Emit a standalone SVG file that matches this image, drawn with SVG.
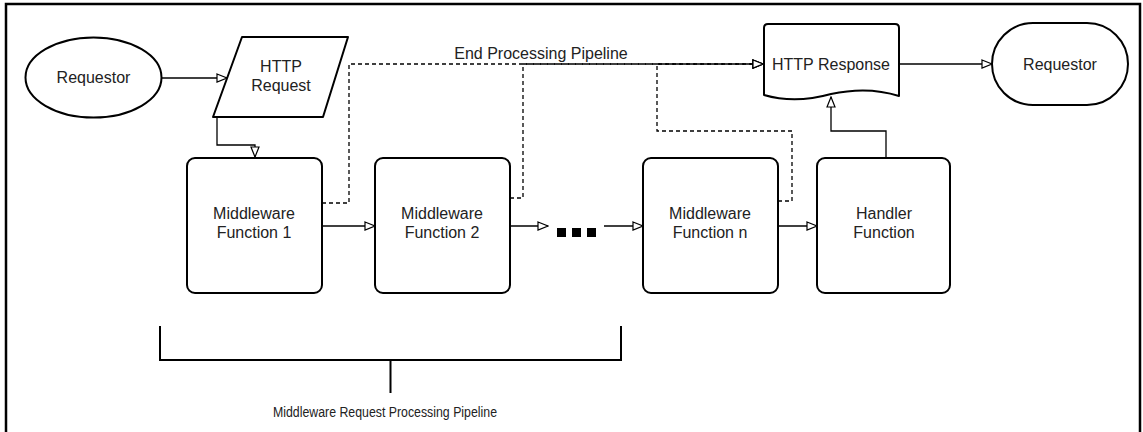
<svg xmlns="http://www.w3.org/2000/svg" width="1143" height="432" viewBox="0 0 1143 432">
<defs>
<style>
.shape{fill:#fff;stroke:#000;stroke-width:2;stroke-linejoin:round}
.t{font-family:"Liberation Sans",Arial,sans-serif;font-size:16px;fill:#222;text-anchor:middle}
.c{fill:none;stroke:#000;stroke-width:1.3}
.d{fill:none;stroke:#000;stroke-width:1.3;stroke-dasharray:4 3}
</style>
<marker id="arr" viewBox="0 0 12 10" refX="11" refY="5" markerWidth="12" markerHeight="10" markerUnits="userSpaceOnUse" orient="auto">
<path d="M1,1 L11,5 L1,9 Z" fill="#fff" stroke="#000" stroke-width="1.2"/>
</marker>
</defs>
<rect width="1143" height="432" fill="#fff"/>
<path d="M6,440 V4 H1140 V440" fill="none" stroke="#000" stroke-width="2.5"/>

<g id="connectors">
<path class="c" d="M162,78 H227" marker-end="url(#arr)"/>
<path class="c" d="M217,117 V145 H255 V157" marker-end="url(#arr)"/>
<path class="c" d="M322,226 H375" marker-end="url(#arr)"/>
<path class="c" d="M510,226 H548" marker-end="url(#arr)"/>
<path class="c" d="M604,226 H643" marker-end="url(#arr)"/>
<path class="c" d="M778,226 H817" marker-end="url(#arr)"/>
<path class="c" d="M886,158 V131 H831 V97" marker-end="url(#arr)"/>
<path class="c" d="M899,64 H992" marker-end="url(#arr)"/>
<path class="d" d="M322,203 H349 V64 H763" marker-end="url(#arr)"/>
<path class="d" d="M510,198 H523 V64 H763" marker-end="url(#arr)"/>
<path class="d" d="M778,201 H792 V131 H657 V64 H763" marker-end="url(#arr)"/>
<text class="t" x="541" y="59">End Processing Pipeline</text>
</g>

<g id="requestor-in">
<ellipse class="shape" cx="93.5" cy="77.5" rx="68" ry="40"/>
<text class="t" x="93.5" y="83">Requestor</text>
</g>

<g id="http-request">
<path class="shape" d="M242,37 H348 L323,117 H213 Z"/>
<text class="t" x="281" y="72">HTTP</text>
<text class="t" x="281" y="91">Request</text>
</g>

<g id="mf1">
<rect class="shape" x="187" y="158" width="135" height="135" rx="8"/>
<text class="t" x="254" y="219">Middleware</text>
<text class="t" x="254" y="238">Function 1</text>
</g>

<g id="mf2">
<rect class="shape" x="375" y="158" width="135" height="135" rx="8"/>
<text class="t" x="442" y="219">Middleware</text>
<text class="t" x="442" y="238">Function 2</text>
</g>

<g id="ellipsis">
<rect x="557" y="228" width="9" height="9" fill="#000"/>
<rect x="572" y="228" width="9" height="9" fill="#000"/>
<rect x="587" y="228" width="9" height="9" fill="#000"/>
</g>

<g id="mfn">
<rect class="shape" x="643" y="158" width="135" height="135" rx="8"/>
<text class="t" x="710" y="219">Middleware</text>
<text class="t" x="710" y="238">Function n</text>
</g>

<g id="handler">
<rect class="shape" x="817" y="158" width="133" height="135" rx="8"/>
<text class="t" x="884" y="219">Handler</text>
<text class="t" x="884" y="238">Function</text>
</g>

<g id="http-response">
<path class="shape" d="M764,95 V28 Q764,24 768,24 H895 Q899,24 899,28 V96 Q868,86 831,94 Q795,104 764,95 Z"/>
<text class="t" x="831" y="70">HTTP Response</text>
</g>

<g id="requestor-out">
<rect class="shape" x="992" y="23" width="136" height="82" rx="41" ry="41"/>
<text class="t" x="1060" y="70">Requestor</text>
</g>

<g id="pipeline-bracket">
<path d="M160,326 V360 H621 V326 M390.5,360 V393" fill="none" stroke="#000" stroke-width="2"/>
<text class="t" x="385" y="417" style="font-size:15.5px" textLength="224" lengthAdjust="spacingAndGlyphs">Middleware Request Processing Pipeline</text>
</g>
</svg>
